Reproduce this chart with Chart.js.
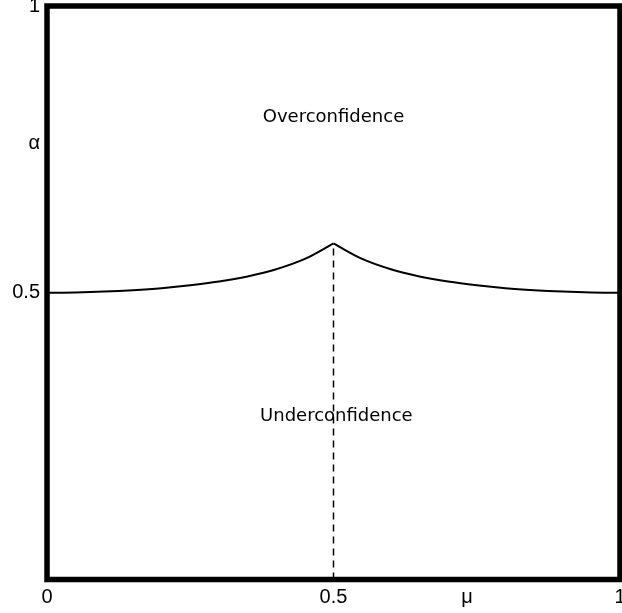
<!DOCTYPE html>
<html>
<head>
<meta charset="utf-8">
<script src="https://cdn.jsdelivr.net/npm/chart.js@4/dist/chart.umd.min.js"></script>
<style>
  html, body { margin: 0; padding: 0; background: #fff; }
  #wrap { width: 622px; height: 613px; }
</style>
</head>
<body>
<div id="wrap"><canvas id="chart"></canvas></div>
<script>
// threshold curve alpha(mu) (left and right of the kink)
const muLeft = [0, 0.05, 0.1, 0.15, 0.2, 0.25, 0.3, 0.35, 0.4, 0.45, 0.5];
const alphaLeft = [0.5, 0.5005, 0.502, 0.5045, 0.508, 0.513, 0.5195, 0.5285, 0.541, 0.559, 0.586];
const muRight = [0.5, 0.55, 0.6, 0.65, 0.7, 0.75, 0.8, 0.85, 0.9, 0.95, 1];
const alphaRight = [0.586, 0.559, 0.541, 0.5285, 0.5195, 0.513, 0.508, 0.5045, 0.502, 0.5005, 0.5];

// dashed marker at mu = 0.5
const dashMu = [0.5, 0.5];
const dashAlpha = [0, 0.586];

// axis ticks (the axis names sit among the ticks in the original)
const xTicks = [0, 0.5, 0.733, 1];
const xTickLabels = ["0", "0.5", "μ", "1"];
const yTicks = [0.5, 0.761, 1];
const yTickLabels = ["0.5", "α", "1"];

// region labels
const regionNames = ["Overconfidence", "Underconfidence"];
const regionMu = [0.5, 0.505];
const regionAlpha = [0.806, 0.285];

const frame = {
  id: "frame",
  afterDraw(chart) {
    const { ctx, chartArea: a, scales } = chart;
    ctx.save();
    ctx.font = "18px 'DejaVu Sans'";
    ctx.fillStyle = "#000";
    ctx.textAlign = "center";
    ctx.textBaseline = "middle";
    regionNames.forEach((t, i) => {
      ctx.fillText(t, scales.x.getPixelForValue(regionMu[i]), scales.y.getPixelForValue(regionAlpha[i]));
    });
    ctx.lineWidth = 5.5;
    ctx.strokeStyle = "#000";
    ctx.strokeRect(a.left, a.top, a.right - a.left, a.bottom - a.top);
    ctx.restore();
  }
};

const curve = (xs, ys) => ({
  data: xs.map((m, i) => ({ x: m, y: ys[i] })),
  showLine: true,
  borderColor: "#000",
  borderWidth: 2,
  pointRadius: 0,
  cubicInterpolationMode: "monotone"
});

new Chart(document.getElementById("chart"), {
  type: "scatter",
  data: {
    datasets: [
      curve(muLeft, alphaLeft),
      curve(muRight, alphaRight),
      {
        data: dashMu.map((m, i) => ({ x: m, y: dashAlpha[i] })),
        showLine: true,
        borderColor: "#000",
        borderWidth: 1.5,
        borderDash: [7, 5],
        pointRadius: 0
      }
    ]
  },
  options: {
    responsive: true,
    maintainAspectRatio: false,
    animation: false,
    layout: { padding: { top: 6, right: 2, left: 0, bottom: 0 } },
    plugins: { legend: { display: false }, tooltip: { enabled: false } },
    scales: {
      x: {
        type: "linear",
        min: 0,
        max: 1,
        grid: { display: false, drawTicks: false },
        border: { display: false },
        afterBuildTicks: (axis) => { axis.ticks = xTicks.map(v => ({ value: v })); },
        afterFit: (axis) => { axis.height = 33.5; axis.paddingLeft = 0; axis.paddingRight = 0; },
        ticks: {
          autoSkip: false,
          maxRotation: 0,
          padding: 6,
          color: "#000",
          font: { family: "'Liberation Sans'", size: 20 },
          callback: (v, i) => xTickLabels[i]
        }
      },
      y: {
        type: "linear",
        min: 0,
        max: 1,
        grid: { display: false, drawTicks: false },
        border: { display: false },
        afterBuildTicks: (axis) => { axis.ticks = yTicks.map(v => ({ value: v })); },
        afterFit: (axis) => { axis.width = 47; axis.paddingTop = 0; axis.paddingBottom = 0; },
        ticks: {
          autoSkip: false,
          padding: 7,
          color: "#000",
          font: { family: "'Liberation Sans'", size: 20 },
          callback: (v, i) => yTickLabels[i]
        }
      }
    }
  },
  plugins: [frame]
});
</script>
</body>
</html>
